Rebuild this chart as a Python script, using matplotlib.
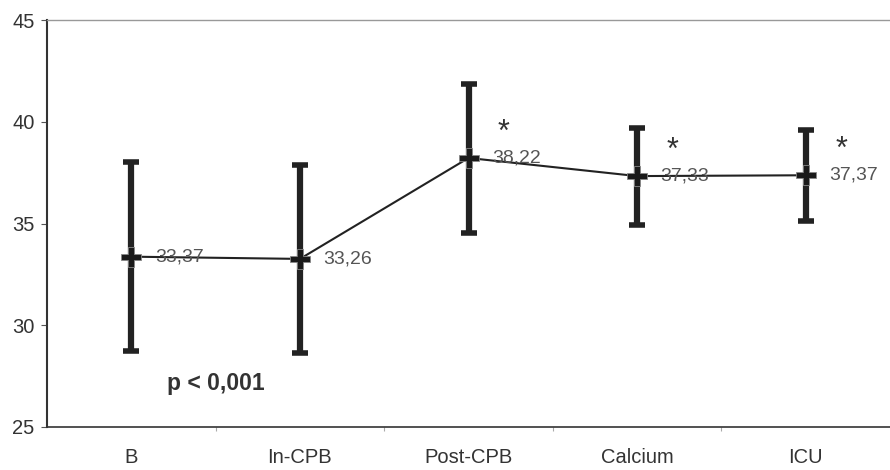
import matplotlib
matplotlib.use("Agg")
import matplotlib.pyplot as plt

categories = ["B", "In-CPB", "Post-CPB", "Calcium", "ICU"]
means = [33.37, 33.26, 38.22, 37.33, 37.37]
upper = [38.0, 37.87, 41.85, 39.7, 39.6]
lower = [28.73, 28.64, 34.53, 34.93, 35.12]
value_labels = ["33,37", "33,26", "38,22", "37,33", "37,37"]
significant = [False, False, True, True, True]
yticks = [25, 30, 35, 40, 45]

plt.rcParams['font.family'] = ['Liberation Sans', 'DejaVu Sans']
fig = plt.figure(figsize=(8.9, 4.7), dpi=100)
ax = fig.add_axes([47/890, 43/470, 1 - 47/890, 407/470])

x = list(range(len(categories)))
yerr = [[m - l for m, l in zip(means, lower)], [u - m for m, u in zip(means, upper)]]
ax.errorbar(x, means, yerr=yerr, fmt='none', ecolor='#222222', elinewidth=4.5,
            capsize=6, capthick=4, zorder=2)
ax.plot(x, means, color='#222222', lw=1.5, zorder=3)
ax.plot(x, means, linestyle='none', marker='P', markersize=14, color='#1a1a1a',
        markeredgecolor='#888888', markeredgewidth=0.6, zorder=4)

for xi, m, lab, sig in zip(x, means, value_labels, significant):
    ax.text(xi + 0.14, m, lab, fontsize=14, color='#555555', va='center', ha='left', zorder=5)
    if sig:
        ax.text(xi + 0.21, m + 0.5, "*", fontsize=22, color='#333333', va='bottom', ha='center', zorder=5)

ax.text(0.5, 27.15, "p < 0,001", fontsize=16.5, fontweight='bold', color='#333333',
        ha='center', va='center')

ax.set_xlim(-0.5, len(categories) - 0.5)
ax.set_ylim(25, 45)
ax.set_yticks(yticks)
ax.set_yticklabels([str(t) for t in yticks], fontsize=14.5, color='#333333')
ax.set_xticks([i + 0.5 for i in range(len(categories) - 1)])
ax.set_xticklabels([])
ax.set_xticks(x, minor=True)
ax.set_xticklabels(categories, minor=True, fontsize=14.5, color='#333333')
ax.tick_params(axis='x', which='minor', length=0, pad=15)
ax.tick_params(axis='x', which='major', length=3, color='#aaaaaa', direction='out')
ax.tick_params(axis='y', length=4, color='#555555', pad=5)

ax.spines['right'].set_visible(False)
ax.spines['top'].set_color('#999999')
ax.spines['top'].set_linestyle((0, (3, 1)))
ax.spines['top'].set_linewidth(1)
ax.spines['left'].set_color('#333333')
ax.spines['left'].set_linewidth(1.5)
ax.spines['bottom'].set_color('#333333')
ax.spines['bottom'].set_linewidth(1.2)

fig.savefig("out.png", dpi=100)
